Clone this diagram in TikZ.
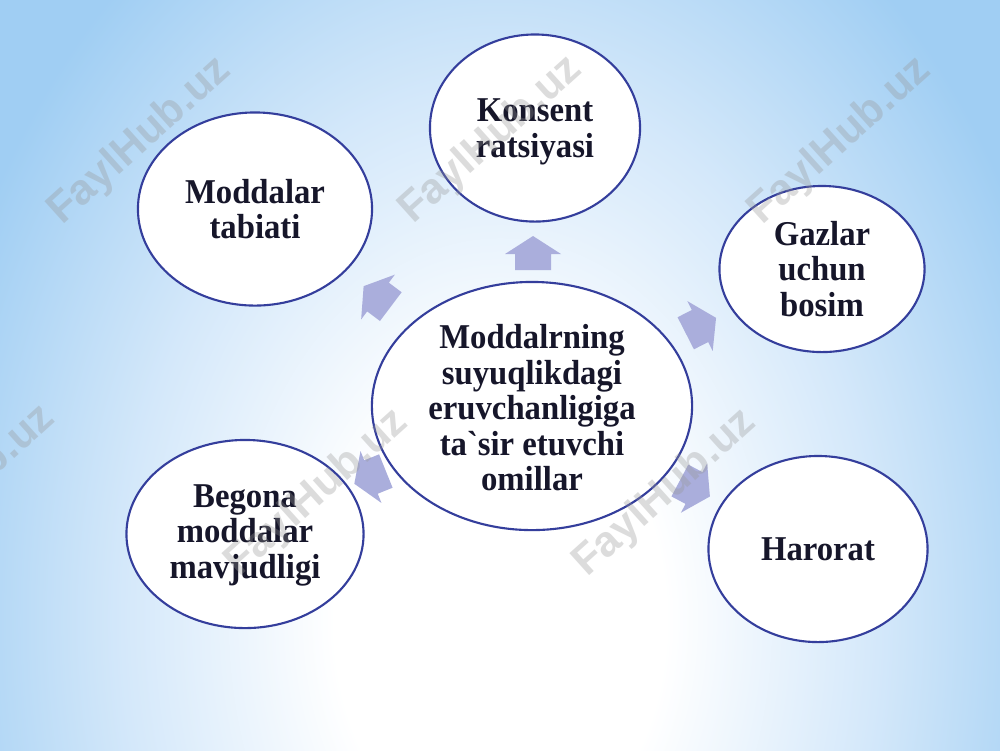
\documentclass[tikz,border=0pt]{standalone}
\usepackage{fontspec}
\usetikzlibrary{shapes.geometric}
\newfontfamily\diafont[FakeStretch=0.94]{Liberation Serif}
\newfontfamily\wmfont{Liberation Sans}
\definecolor{bgblue}{RGB}{160,206,243}
\definecolor{bgmid}{RGB}{212,232,250}
\definecolor{ringblue}{RGB}{52,62,156}
\definecolor{arrowc}{RGB}{170,174,220}
\definecolor{inkc}{RGB}{22,22,42}
\definecolor{wmgray}{RGB}{150,150,150}
\pgfdeclareradialshading{bgshade}{\pgfpoint{0bp}{0bp}}{color(0bp)=(white); color(7bp)=(white); color(16bp)=(bgmid); color(25bp)=(bgblue); color(50bp)=(bgblue)}
\begin{document}
\begin{tikzpicture}[x=0.01cm, y=-0.01cm,
  bubble/.style={ellipse, draw=ringblue, line width=0.6pt, fill=white, inner sep=0pt},
  bubbletext/.style={font=\diafont\bfseries\fontsize{9.9pt}{10.1pt}\selectfont, text=inkc, align=center, inner sep=0pt},
  blockarrow/.style={fill=arrowc},
  watermark/.style={font=\wmfont\bfseries\fontsize{12.2pt}{12pt}\selectfont, text=wmgray, text opacity=0.33, rotate=42, inner sep=0pt}]
\useasboundingbox (0,0) rectangle (1000,750);
\fill[bgblue] (0,0) rectangle (1000,750);
\begin{scope}
  \clip (0,0) rectangle (1000,750);
  \shade[shading=bgshade] (500,620) ellipse [x radius=5.9cm, y radius=8.3cm];
\end{scope}

% bubbles
\node[bubble, minimum width=3.20cm, minimum height=2.48cm] (center) at (532,406) {};
\node[bubble, minimum width=2.10cm, minimum height=1.87cm] (konsent) at (535,128) {};
\node[bubble, minimum width=2.34cm, minimum height=1.93cm] (tabiat) at (255,209) {};
\node[bubble, minimum width=2.05cm, minimum height=1.66cm] (gazlar) at (822,269) {};
\node[bubble, minimum width=2.37cm, minimum height=1.88cm] (begona) at (245,534) {};
\node[bubble, minimum width=2.19cm, minimum height=1.86cm] (harorat) at (818,549) {};

% block arrows
\foreach \p/\a in {{(533,254)}/90, {(378,297)}/143, {(700,326)}/27, {(371,477)}/202, {(694,488)}/-28}{
  \path[blockarrow, shift={\p}, rotate=\a] (18,0) -- (0,28) -- (0,18) -- (-16,18) -- (-16,-18) -- (0,-18) -- (0,-28) -- cycle;
}

% texts
\node[bubbletext] (t-center) at ([yshift=-0.02cm]center.center) {Moddalrning\\suyuqlikdagi\\eruvchanligiga\\ta`sir etuvchi\\omillar};
\node[bubbletext] (t-konsent) at ([yshift=-0.04cm]konsent.center) {Konsent\\ratsiyasi};
\node[bubbletext] (t-tabiat) at (tabiat.center) {Moddalar\\tabiati};
\node[bubbletext] (t-gazlar) at (gazlar.center) {Gazlar\\uchun\\bosim};
\node[bubbletext] (t-begona) at ([yshift=-0.01cm]begona.center) {Begona\\moddalar\\mavjudligi};
\node[bubbletext] (t-harorat) at (harorat.center) {Harorat};

% watermarks
\node[watermark] (wm1) at (140,141) {FaylHub.uz};
\node[watermark] (wm2) at (491,140) {FaylHub.uz};
\node[watermark] (wm3) at (840,141) {FaylHub.uz};
\node[watermark] (wm4) at (-36,489) {FaylHub.uz};
\node[watermark] (wm5) at (317,493) {FaylHub.uz};
\node[watermark] (wm6) at (665,493) {FaylHub.uz};
\end{tikzpicture}
\end{document}
